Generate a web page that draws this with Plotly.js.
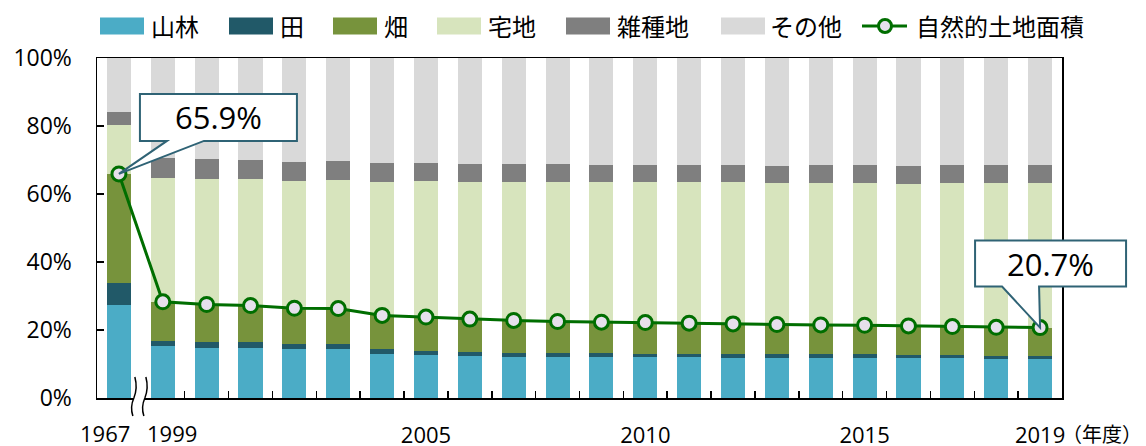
<!DOCTYPE html>
<html><head><meta charset="utf-8">
<script src="https://cdn.plot.ly/plotly-3.0.1.min.js"></script>
<style>html,body{margin:0;padding:0;background:#fff}#chart{width:1146px;height:446px}</style>
</head><body><div id="chart"></div>
<script>
// ---- data ----
const years = ['1967','1999','2000','2001','2002','2003','2004','2005','2006','2007','2008','2009','2010','2011','2012','2013','2014','2015','2016','2017','2018','2019'];
const tickLabels = ['','','','','','','','2005','','','','','2010','','','','','2015','','','','2019'];
const offsetLabels = ['1967','1999'];   // drawn apart around the axis break
const yTickVals = [0, 20, 40, 60, 80, 100];
const yTickText = ['0%','20%','40%','60%','80%','100%'];
const forest      = [27.4,15.3,14.8,14.8,14.4,14.4,12.9,12.6,12.4,12.2,12.1,12.1,12.0,12.0,11.8,11.8,11.8,11.8,11.8,11.7,11.6,11.6];
const paddy       = [6.5,1.6,1.6,1.6,1.5,1.5,1.4,1.3,1.2,1.1,1.2,1.0,0.9,0.9,1.0,1.0,1.0,1.0,0.9,0.9,0.9,0.9];
const field       = [32.0,11.4,11.1,10.8,10.5,10.4,10.0,9.9,9.6,9.5,9.2,9.2,9.3,9.1,9.0,8.8,8.7,8.6,8.5,8.4,8.3,8.2];
const residential = [14.4,36.3,36.8,37.1,37.4,37.8,39.2,40.0,40.4,40.8,41.0,41.2,41.3,41.4,41.6,41.5,41.8,41.9,41.8,42.3,42.5,42.6];
const misc        = [3.9,5.9,5.9,5.7,5.7,5.6,5.6,5.3,5.3,5.2,5.2,5.1,5.0,5.1,5.1,5.2,5.2,5.2,5.2,5.2,5.2,5.2];
const other       = [15.8,29.5,29.8,30.0,30.5,30.3,30.9,30.9,31.1,31.2,31.3,31.4,31.5,31.5,31.5,31.7,31.5,31.5,31.8,31.5,31.5,31.5];
const natural     = [65.9,28.3,27.5,27.2,26.4,26.3,24.3,23.8,23.2,22.8,22.5,22.3,22.2,22.0,21.8,21.6,21.5,21.4,21.2,21.0,20.8,20.7];
const seriesNames = ['山林','田','畑','宅地','雑種地','その他'];
const lineName = '自然的土地面積';
const yearUnit = '（年度）';
const calloutIdx = [0, 21];
const calloutText = ['65.9%', '20.7%'];

// ---- styles ----
const barColors = ['#4BACC6','#215968','#77933C','#D7E4BD','#7F7F7F','#D9D9D9'];
const lineColor = '#006E00';
const markerFill = '#E6E0EC';
const calloutColor = '#2F6375';
const FONT = 'Open Sans, "Noto Sans CJK JP", sans-serif';
const JFONT = '"Noto Sans CJK JP", "Open Sans", sans-serif';

const seriesData = [forest, paddy, field, residential, misc, other];
const traces = seriesData.map((d, i) => ({
  type: 'bar', x: years, y: d, name: seriesNames[i],
  marker: {color: barColors[i], line: {width: 0}}, showlegend: false, hoverinfo: 'skip'
}));
traces.push({
  type: 'scatter', mode: 'lines+markers', x: years, y: natural, name: lineName,
  line: {color: lineColor, width: 3},
  marker: {size: 14, color: markerFill, line: {color: lineColor, width: 3}},
  showlegend: false, cliponaxis: false
});

// layout helpers (plot area 97..1062 x, 58..398 y)
const L = 97, R = 1062, T = 58, B = 398;
const px = p => (p - L) / (R - L);
const py = p => (B - p) / (B - T);
const n = years.length;
const yMax = 100;
const shapes = [];
const annotations = [];

// custom legend
const legendItems = [
  {sx: 100, tx: 149}, {sx: 229, tx: 278}, {sx: 333, tx: 382}, {sx: 437, tx: 486},
  {sx: 566, tx: 615}, {sx: 721, tx: 768}
];
const legY = 26;
legendItems.forEach((it, i) => {
  shapes.push({type: 'rect', xref: 'paper', yref: 'paper', x0: px(it.sx), x1: px(it.sx + 44),
    y0: py(legY + 8.5), y1: py(legY - 8.5), fillcolor: barColors[i], line: {width: 0}});
  annotations.push({xref: 'paper', yref: 'paper', x: px(it.tx), y: py(legY), xanchor: 'left', yanchor: 'middle',
    text: seriesNames[i], showarrow: false, font: {family: JFONT, size: 24, color: '#000'}});
});
shapes.push({type: 'line', xref: 'paper', yref: 'paper', x0: px(862), x1: px(907), y0: py(legY), y1: py(legY),
  line: {color: lineColor, width: 3}});
shapes.push({type: 'circle', xref: 'paper', yref: 'paper', xsizemode: 'pixel', ysizemode: 'pixel',
  xanchor: px(885), yanchor: py(legY), x0: -6.5, x1: 6.5, y0: -6.5, y1: 6.5,
  fillcolor: markerFill, line: {color: lineColor, width: 3}});
annotations.push({xref: 'paper', yref: 'paper', x: px(914), y: py(legY), xanchor: 'left', yanchor: 'middle',
  text: lineName, showarrow: false, font: {family: JFONT, size: 24, color: '#000'}});

// callouts
const calloutGeom = [
  {path: 'M 0,0 L 48,33 L 21,33 L 21,80 L 178,80 L 178,33 L 85,33 Z', tx: 100, ty: 57},
  {path: 'M 0,0 L -38,41 L -65,41 L -65,87 L 86,87 L 86,41 L -1,41 Z', tx: 10, ty: 64}
];
calloutIdx.forEach((idx, k) => {
  const g = calloutGeom[k];
  const xf = (idx + 0.5) / n, yf = natural[idx] / yMax;
  shapes.push({type: 'path', xref: 'x domain', yref: 'y domain', xsizemode: 'pixel', ysizemode: 'pixel',
    xanchor: xf, yanchor: yf, path: g.path,
    fillcolor: '#FFFFFF', line: {color: calloutColor, width: 2}, layer: 'above'});
  annotations.push({xref: 'x domain', yref: 'y domain', x: xf, y: yf, xshift: g.tx, yshift: g.ty,
    text: calloutText[k], showarrow: false, xanchor: 'center', yanchor: 'middle',
    font: {family: FONT, size: 31, color: '#000'}});
});

// axis break marks between 1967 and 1999
const brk = {xref: 'x domain', yref: 'y domain', xsizemode: 'pixel', ysizemode: 'pixel', xanchor: 1 / n, yanchor: 0};
shapes.push(Object.assign({type: 'path', path: 'M -6,21 Q -3,10 -7,0 Q -11,-9 -8,-18 L 3,-18 Q 0,-9 4,0 Q 8,10 5,21 Z',
  fillcolor: '#FFFFFF', line: {width: 0}, layer: 'above'}, brk));
shapes.push(Object.assign({type: 'path', path: 'M -6,21 Q -3,10 -7,0 Q -11,-9 -8,-18',
  line: {color: '#000', width: 1.5}, layer: 'above'}, brk));
shapes.push(Object.assign({type: 'path', path: 'M 5,21 Q 8,10 4,0 Q 0,-9 3,-18',
  line: {color: '#000', width: 1.5}, layer: 'above'}, brk));

// 1967 / 1999 labels, set apart on either side of the break
const offsetShift = [-14, 9];
offsetLabels.forEach((t, i) => {
  annotations.push({xref: 'x domain', yref: 'y domain', x: (i + 0.5) / n, y: 0, xshift: offsetShift[i], yshift: -35,
    text: t, showarrow: false, xanchor: 'center', yanchor: 'middle',
    font: {family: FONT, size: 22, color: '#000'}});
});

// year unit label
annotations.push({xref: 'x domain', yref: 'y domain', x: (n - 0.5) / n, y: 0, xshift: 62, yshift: -35,
  text: yearUnit, showarrow: false, xanchor: 'center', yanchor: 'middle',
  font: {family: JFONT, size: 20, color: '#000'}});

const layout = {
  width: 1146, height: 446,
  margin: {l: L, r: 1146 - R, t: T, b: 446 - B, pad: 0},
  paper_bgcolor: '#fff', plot_bgcolor: '#fff',
  barmode: 'stack', bargap: 0.45,
  showlegend: false,
  font: {family: FONT, color: '#000'},
  xaxis: {
    type: 'category', range: [-0.5, n - 0.5],
    tickmode: 'array', tickvals: years, ticktext: tickLabels, tickangle: 0,
    tickson: 'boundaries', ticks: 'inside', ticklen: 7, tickwidth: 1.5, tickcolor: '#000',
    showline: true, linecolor: '#000', linewidth: 1.5, mirror: true,
    showgrid: false, zeroline: false,
    tickfont: {family: FONT, size: 22, color: '#000'},
    ticklabelstandoff: 17
  },
  yaxis: {
    range: [0, yMax], tickmode: 'array', tickvals: yTickVals, ticktext: yTickText,
    ticks: 'inside', ticklen: 7, tickwidth: 1.5, tickcolor: '#000',
    showline: true, linecolor: '#000', linewidth: 1.5, mirror: true,
    showgrid: false, zeroline: false,
    tickfont: {family: FONT, size: 23, color: '#000'},
    ticklabelstandoff: 19
  },
  shapes: shapes,
  annotations: annotations
};

Plotly.newPlot('chart', traces, layout, {staticPlot: true, displayModeBar: false});
</script>
</body></html>
